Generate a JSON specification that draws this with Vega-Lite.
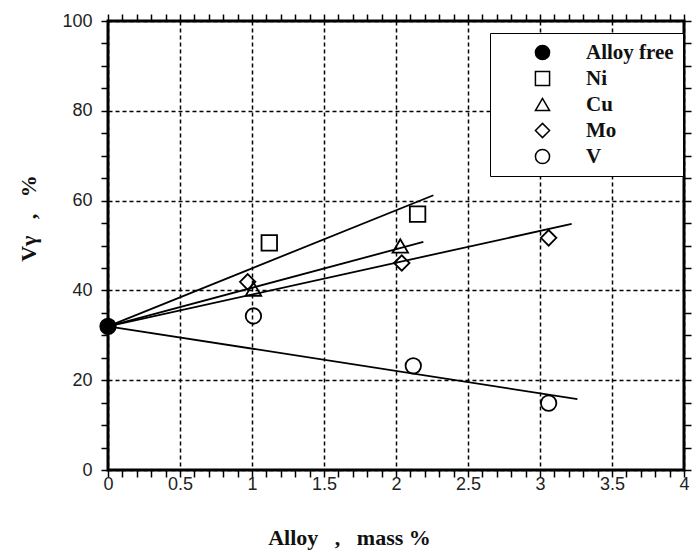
{
  "$schema": "https://vega.github.io/schema/vega-lite/v6.json",
  "width": 576,
  "height": 449,
  "autosize": {"type": "none"},
  "padding": {"left": 108, "top": 21, "right": 12, "bottom": 82},
  "background": "white",
  "config": {
    "view": {"stroke": "black", "strokeWidth": 3},
    "font": "Liberation Sans",
    "axis": {"domain": false, "ticks": true, "tickSize": 7, "tickColor": "black", "tickOpacity": 1, "tickWidth": 1.5, "gridColor": "black", "gridDash": [4, 3], "gridWidth": 1.5, "labelFont": "Liberation Sans", "labelFontSize": 18, "labelColor": "#222", "titleFont": "Liberation Serif", "titleFontWeight": "bold", "titleFontSize": 22, "titleColor": "#111"}
  },
  "datasets": {
    "pts": [
      {"series": "Alloy free", "alloy": 0, "v": 32},
      {"series": "Ni", "alloy": 1.12, "v": 50.6},
      {"series": "Ni", "alloy": 2.15, "v": 57},
      {"series": "Cu", "alloy": 1.01, "v": 40.3},
      {"series": "Cu", "alloy": 2.03, "v": 49.9},
      {"series": "Mo", "alloy": 0.97, "v": 41.9},
      {"series": "Mo", "alloy": 2.04, "v": 46.1},
      {"series": "Mo", "alloy": 3.06, "v": 51.7},
      {"series": "V", "alloy": 1.01, "v": 34.3},
      {"series": "V", "alloy": 2.12, "v": 23.2},
      {"series": "V", "alloy": 3.06, "v": 14.9}
    ],
    "fits": [
      {"series": "Ni", "alloy": 0, "v": 32},
      {"series": "Ni", "alloy": 2.26, "v": 61.2},
      {"series": "Cu", "alloy": 0, "v": 32},
      {"series": "Cu", "alloy": 2.19, "v": 50.8},
      {"series": "Mo", "alloy": 0, "v": 32},
      {"series": "Mo", "alloy": 3.22, "v": 54.8},
      {"series": "V", "alloy": 0, "v": 32},
      {"series": "V", "alloy": 3.26, "v": 15.8}
    ]
  },
  "layer": [
    {
      "data": {"name": "fits"},
      "mark": {"type": "line", "color": "black", "strokeWidth": 1.8},
      "encoding": {
        "x": {"field": "alloy", "type": "quantitative", "scale": {"domain": [0, 4], "nice": false},
          "axis": {"orient": "top", "labels": false, "grid": false, "title": null,
            "encode": {"ticks": {"update": {"y": {"value": 7}, "y2": {"value": 0}}}},
            "values": [0,0.1,0.2,0.3,0.4,0.5,0.6,0.7,0.8,0.9,1,1.1,1.2,1.3,1.4,1.5,1.6,1.7,1.8,1.9,2,2.1,2.2,2.3,2.4,2.5,2.6,2.7,2.8,2.9,3,3.1,3.2,3.3,3.4,3.5,3.6,3.7,3.8,3.9,4]}},
        "y": {"field": "v", "type": "quantitative", "scale": {"domain": [0, 100], "nice": false},
          "axis": {"orient": "right", "labels": false, "grid": false, "title": null,
            "encode": {"ticks": {"update": {"x": {"value": -7}, "x2": {"value": 0}}}},
            "values": [0,5,10,15,20,25,30,35,40,45,50,55,60,65,70,75,80,85,90,95,100]}},
        "detail": {"field": "series"}
      }
    },
    {
      "data": {"name": "pts"},
      "mark": {"type": "point", "strokeWidth": 1.8, "stroke": "black", "size": 240, "opacity": 1},
      "encoding": {
        "x": {"field": "alloy", "type": "quantitative", "scale": {"domain": [0, 4], "nice": false},
          "axis": {"orient": "bottom", "title": "Alloy\u00a0\u00a0\u00a0,\u00a0\u00a0\u00a0mass %", "grid": true,
            "encode": {"ticks": {"update": {"y2": {"value": -7}}}},
            "values": [0,0.1,0.2,0.3,0.4,0.5,0.6,0.7,0.8,0.9,1,1.1,1.2,1.3,1.4,1.5,1.6,1.7,1.8,1.9,2,2.1,2.2,2.3,2.4,2.5,2.6,2.7,2.8,2.9,3,3.1,3.2,3.3,3.4,3.5,3.6,3.7,3.8,3.9,4],
            "labelExpr": "abs(datum.value*2 - round(datum.value*2)) < 0.001 ? format(datum.value, '~g') : ''",
            "gridOpacity": {"condition": {"test": "abs(datum.value*2 - round(datum.value*2)) < 0.001", "value": 1}, "value": 0},
            "labelPadding": -2, "labelFlush": false,
            "titleX": 241, "titleY": 67, "titleAlign": "center", "titleBaseline": "middle"}},
        "y": {"field": "v", "type": "quantitative", "scale": {"domain": [0, 100], "nice": false},
          "axis": {"orient": "left", "title": "Vγ\u00a0\u00a0\u00a0,\u00a0\u00a0\u00a0%", "grid": true,
            "encode": {"ticks": {"update": {"x2": {"value": 7}}}},
            "values": [0,5,10,15,20,25,30,35,40,45,50,55,60,65,70,75,80,85,90,95,100],
            "labelExpr": "datum.value % 20 === 0 ? format(datum.value, '~g') : ''",
            "gridOpacity": {"condition": {"test": "datum.value % 20 === 0", "value": 1}, "value": 0},
            "labelPadding": 9, "labelFlush": false,
            "titleX": -80, "titleY": 197, "titleAlign": "center", "titleBaseline": "middle", "titleAngle": -90}},
        "shape": {"field": "series", "type": "nominal",
          "scale": {"domain": ["Alloy free", "Ni", "Cu", "Mo", "V"], "range": ["circle", "square", "triangle-up", "diamond", "circle"]},
          "legend": {"orient": "none", "legendX": 382, "legendY": 12, "title": null, "strokeColor": "black", "fillColor": "white", "padding": 9, "symbolOffset": 33, "labelOffset": 33, "rowPadding": 4, "labelFont": "Liberation Serif", "labelFontWeight": "bold", "labelFontSize": 21, "labelColor": "#111", "symbolSize": 200,
            "encode": {"legend": {"update": {"strokeWidth": {"value": 3}}}, "symbols": {"update": {"stroke": {"value": "black"}, "strokeWidth": {"value": 2}, "fill": {"signal": "datum.value === 'Alloy free' ? 'black' : 'transparent'"}}}}}},
        "fill": {"field": "series", "type": "nominal",
          "scale": {"domain": ["Alloy free", "Ni", "Cu", "Mo", "V"], "range": ["black", "transparent", "transparent", "transparent", "transparent"]},
          "legend": null}
      }
    }
  ],
  "resolve": {"axis": {"x": "independent", "y": "independent"}}
}
